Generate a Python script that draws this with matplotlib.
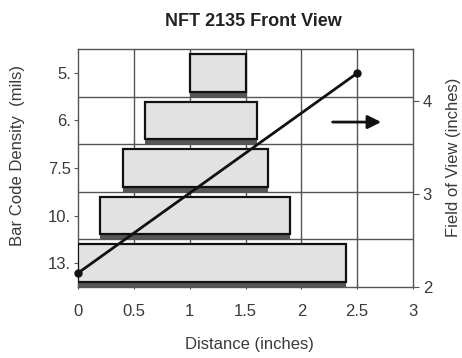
import matplotlib
matplotlib.use("Agg")
import matplotlib.pyplot as plt

plt.rcParams['font.family'] = ['Liberation Sans', 'DejaVu Sans']

densities = ["5.", "6.", "7.5", "10.", "13."]
bar_left = [1.0, 0.6, 0.4, 0.2, 0.0]
bar_right = [1.5, 1.6, 1.7, 1.9, 2.4]
fov_x = [0.0, 2.5]
fov_y = [2.15, 4.3]
x_ticks = [0, 0.5, 1, 1.5, 2, 2.5, 3]
x_ticklabels = ["0", "0.5", "1", "1.5", "2", "2.5", "3"]
fov_ticks = [2, 3, 4]

W, H = 462, 358
FS = 12
TC = '#3a3a3a'
fig = plt.figure(figsize=(W/100, H/100), dpi=100)
ax = fig.add_axes([78/W, 1-287/H, (413-78)/W, (287-49)/H])

n = len(densities)
pos = list(range(n))
widths = [r - l for l, r in zip(bar_left, bar_right)]
bh = 0.79
# shadow under bars
ax.barh([p + bh/2 + 0.053 for p in pos], widths, left=bar_left, height=0.105,
        color='#555555', edgecolor='none', zorder=2)
ax.barh(pos, widths, left=bar_left, height=bh, color='#e2e2e2',
        edgecolor='#111111', linewidth=1.6, zorder=3)

ax.set_ylim(n - 0.5, -0.5)
ax.set_xlim(0, 3)
ax.set_yticks(pos)
ax.set_yticklabels(densities, fontsize=FS, color=TC)
ax.set_xticks(x_ticks)
ax.set_xticklabels(x_ticklabels, fontsize=FS, color=TC)
for b in [p + 0.5 for p in pos[:-1]]:
    ax.axhline(b, color='#555555', lw=1.0, zorder=1)
for xv in x_ticks[1:-1]:
    ax.axvline(xv, color='#555555', lw=1.0, zorder=1)
for s in ax.spines.values():
    s.set_color('#555555')
    s.set_linewidth(1.0)
ax.tick_params(axis='y', length=3, color='#555555', pad=2)
ax.tick_params(axis='x', length=3, direction='inout', color='#555555', pad=11)
ax.set_xlabel("Distance (inches)", fontsize=FS, color=TC)
ax.xaxis.set_label_coords((249-78)/335, (287-345)/238)
ax.xaxis.label.set_va('center')
ax.set_ylabel("Bar Code Density  (mils)", fontsize=FS, color=TC)
ax.yaxis.set_label_coords((18-78)/335, (287-155)/238)
ax.yaxis.label.set_va('center')

ax2 = ax.twinx()
ax2.set_ylim(2, 4.56)
ax2.set_yticks(fov_ticks)
ax2.set_yticklabels([str(t) for t in fov_ticks], fontsize=FS, color=TC)
ax2.tick_params(axis='y', length=4, color='#555555', pad=3)
for s in ax2.spines.values():
    s.set_visible(False)
ax2.plot(fov_x, fov_y, color='#111111', lw=2.0, marker='o', markersize=5, zorder=5,
         clip_on=False)
ax2.set_ylabel("Field of View (inches)", fontsize=FS, color=TC)
ax2.yaxis.set_label_coords((453-78)/335, (287-157)/238)
ax2.yaxis.label.set_va('center')

ax.annotate("", xy=(0.905, 0.693), xytext=(0.76, 0.693), xycoords='axes fraction',
            arrowprops=dict(arrowstyle='-|>,head_length=0.8,head_width=0.4',
                            color='#111111', lw=2.0, shrinkA=0, shrinkB=0),
            zorder=6)

fig.text(253/W, 1-22/H, "NFT 2135 Front View", ha='center', va='center',
         fontsize=13, fontweight='bold', color='#222222')

fig.savefig("out.png", dpi=100)
